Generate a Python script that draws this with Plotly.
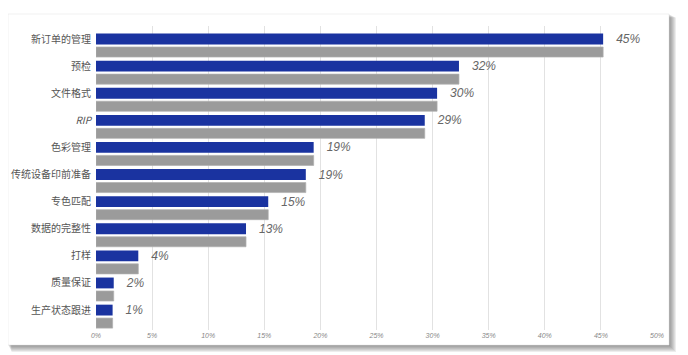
import plotly.graph_objects as go

categories = ["新订单的管理", "预检", "文件格式", "RIP", "色彩管理", "传统设备印前准备",
              "专色匹配", "数据的完整性", "打样", "质量保证", "生产状态跟进"]
values = [45.2, 32.35, 30.4, 29.3, 19.4, 18.7, 15.35, 13.37, 3.77, 1.58, 1.48]
value_labels = ["45%", "32%", "30%", "29%", "19%", "19%", "15%", "13%", "4%", "2%", "1%"]
x_tick_vals = [0, 5, 10, 15, 20, 25, 30, 35, 40, 45, 50]
x_tick_text = ["0%", "5%", "10%", "15%", "20%", "25%", "30%", "35%", "40%", "45%", "50%"]

# page body has an 8px default margin, so the figure is sized/positioned for it
W, H = 680, 347
L, R, T, B = 88, 31, 18, 25
pw, ph = W - L - R, H - T - B

def px_x(p):
    return (p - L) / pw

def px_y(p):
    return (H - B - p) / ph

fig = go.Figure()

# gray "reflection" bars
fig.add_trace(go.Bar(
    y=categories, x=values, orientation="h",
    width=0.37, offset=0.295,
    marker=dict(color="#9b9b9b", line=dict(color="rgba(175,175,175,0.7)", width=1)),
    hoverinfo="skip", showlegend=False,
))
# blue value bars
fig.add_trace(go.Bar(
    y=categories, x=values, orientation="h",
    width=0.4, offset=-0.2,
    marker=dict(color="#1a33a0", line=dict(width=0)),
    text=["   " + t for t in value_labels],
    textposition="outside", cliponaxis=False, constraintext="none",
    textfont=dict(family="Liberation Sans", size=12, color="#666666", style="italic"),
    showlegend=False,
))

shapes = []
# card shadow
for i in range(1, 8):
    shapes.append(dict(
        type="rect", xref="paper", yref="paper", layer="below",
        x0=px_x(0 + i * 0.5), x1=px_x(661 + i),
        y0=px_y(337 + i), y1=px_y(6 + i * 0.5),
        fillcolor="rgba(60,60,60,0.09)", line=dict(width=0),
    ))
# card
shapes.append(dict(
    type="rect", xref="paper", yref="paper", layer="below",
    x0=px_x(0), x1=px_x(661), y0=px_y(337), y1=px_y(6),
    fillcolor="white", line=dict(color="rgba(225,225,225,1)", width=0.5),
))

cat_ticktext = ["<i>" + c + "</i>" if c == "RIP" else c for c in categories]

fig.update_layout(
    width=W, height=H,
    margin=dict(l=L, r=R, t=T, b=B, autoexpand=False),
    paper_bgcolor="#ffffff", plot_bgcolor="rgba(0,0,0,0)",
    barmode="overlay",
    shapes=shapes,
    xaxis=dict(
        range=[0, 50], tickvals=x_tick_vals, ticktext=x_tick_text,
        showgrid=True, gridcolor="#e2e2e2", gridwidth=1, zeroline=False,
        showline=False, ticks="", ticklabelstandoff=0, automargin=False,
        tickfont=dict(family="Liberation Sans", size=7, color="#888888", style="italic"),
    ),
    yaxis=dict(
        type="category", range=[10.735, -0.48],
        tickvals=categories, ticktext=cat_ticktext,
        showgrid=False, zeroline=False, showline=False, ticks="",
        ticklabelstandoff=4, automargin=False,
        tickfont=dict(family="Noto Sans CJK SC, Liberation Sans", size=10, color="#555555"),
    ),
    font=dict(family="Noto Sans CJK SC"),
)

fig.write_html("out.html")
